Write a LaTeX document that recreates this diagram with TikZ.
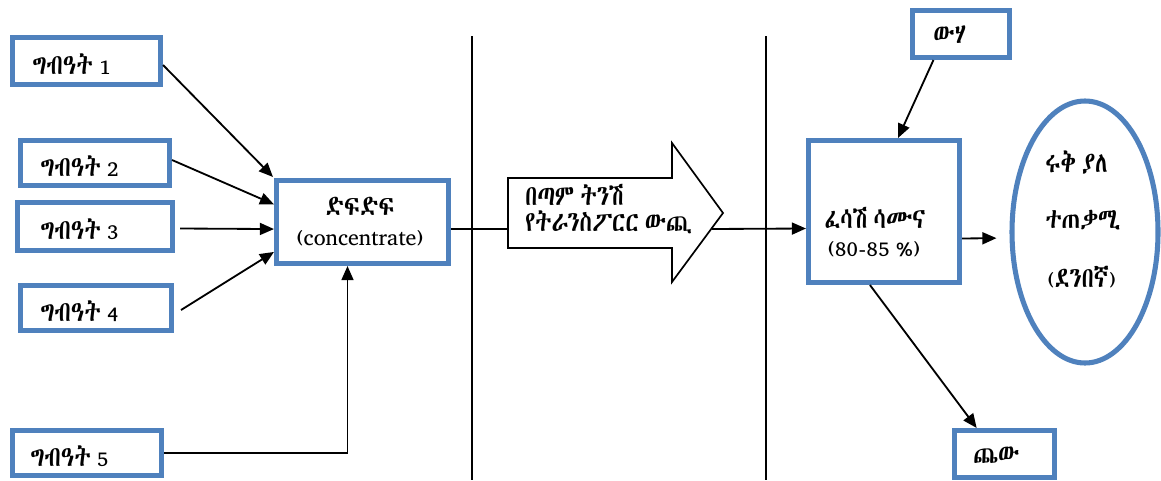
\documentclass[tikz,border=0pt]{standalone}
\usepackage{fontspec}
\usetikzlibrary{arrows.meta,shapes.geometric,calc}
\newfontfamily\eth{Abyssinica SIL}[Scale=1.3,FakeStretch=0.8,WordSpace=0.6]
\newfontfamily\lat{Abyssinica SIL}[WordSpace=0.6]
\definecolor{boxblue}{RGB}{79,129,189}
\newdimen\px \px=0.025cm
\begin{document}
\begin{tikzpicture}[x=0.025cm,y=-0.025cm,
  txt/.style={font=\eth\fontsize{15.5}{18}\selectfont,inner sep=0pt},
  bluebox/.style={draw=boxblue,line width=3.6pt,inner sep=0pt,rectangle},
  conn/.style={line width=1.3pt,-{Triangle[length=10pt,width=8.5pt]}},
  plain/.style={line width=1.3pt}]
\useasboundingbox (0,0) rectangle (1161,480);
% input boxes
\node[bluebox,minimum width=148\px,minimum height=47\px] (in1) at (86.5,61) {};
\node[bluebox,minimum width=149\px,minimum height=45\px] (in2) at (95,163) {};
\node[bluebox,minimum width=155\px,minimum height=48\px] (in3) at (95,226.5) {};
\node[bluebox,minimum width=151\px,minimum height=45\px] (in4) at (96,308) {};
\node[bluebox,minimum width=149\px,minimum height=45\px] (in5) at (87,453) {};
\node[txt,anchor=west] (t1) at (32,64) {ግብዓት {\lat 1}};
\node[txt,anchor=west] (t2) at (40,166) {ግብዓት {\lat 2}};
\node[txt,anchor=west] (t3) at (40,229) {ግብዓት {\lat 3}};
\node[txt,anchor=west] (t4) at (40,311) {ግብዓት {\lat 4}};
\node[txt,anchor=west] (t5) at (30,456) {ግብዓት {\lat 5}};
% concentrate
\node[bluebox,minimum width=172\px,minimum height=83\px] (conc) at (362.5,222) {};
\node[txt] (c1) at (360,206) {ድፍድፍ};
\node[txt] (c2) at (360,238) {\lat (concentrate)};
% separators
\coordinate (s1a) at (472,36); \coordinate (s1b) at (472,480);
\coordinate (s2a) at (766,36); \coordinate (s2b) at (766,480);
\draw[line width=1pt] (s1a) -- (s1b);
\draw[line width=1pt] (s2a) -- (s2b);
% big arrow
\coordinate (aL) at (508,229);
\coordinate (aR) at (712,229);
\draw[line width=1.2pt,fill=white,line join=miter]
  (508,178) -- (672,178) -- (672,143) -- (723,213) -- (672,282) -- (672,248) -- (508,248) -- cycle;
\node[txt,anchor=west] (a1) at (525,195) {በጣም ትንሽ};
\node[txt,anchor=west] (a2) at (525,222) {የትራንስፖርር ውጪ};
% fluid soap
\node[bluebox,minimum width=151\px,minimum height=142\px] (fluid) at (884,211.5) {};
\node[txt] (f1) at (875,218) {ፈሳሽ ሳሙና};
\node[txt] (f2) at (874,249) {\lat (80-85 \%)};
% water
\node[bluebox,minimum width=97\px,minimum height=47\px] (water) at (961,34) {};
\node[txt,anchor=west] (w1) at (933,35) {ውሃ};
% salt
\node[bluebox,minimum width=100\px,minimum height=47\px] (salt) at (1004.5,454) {};
\node[txt,anchor=west] (s1) at (973,455) {ጨው};
% customer
\node[draw=boxblue,line width=3.6pt,ellipse,minimum width=146\px,minimum height=262\px,inner sep=0pt] (cust) at (1085,232) {};
\node[txt,anchor=west] (u1) at (1045,162) {ሩቅ ያለ};
\node[txt,anchor=west] (u2) at (1045,220) {ተጠቃሚ};
\node[txt,anchor=west] (u3) at (1047,277) {{\lat(}ደንበኛ{\lat)}};
% connectors
\draw[conn] ($(in1.east)+(0,4)$) -- ($(conc.north west)+(-1,-1)$);
\draw[conn] ($(in2.east)+(0,-3)$) -- ($(conc.north west)!0.3!(conc.south west)$);
\draw[conn] ($(in3.east)+(5,2)$) -- ($(conc.north west)!0.58!(conc.south west)$);
\draw[conn] ($(in4.east)+(7,2)$) -- ($(conc.north west)!0.84!(conc.south west)$);
\draw[conn] (in5.east) -| ($(conc.south)+(-15,0)$);
\draw[plain] ($(conc.east)+(0,7)$) -- (aL);
\draw[conn] (aR) -- ($(fluid.west)+(0,17)$);
\draw[conn] ($(water.south west)!0.23!(water.south east)$) -- ($(fluid.north west)!0.59!(fluid.north east)$);
\draw[conn,shorten >=13\px] ($(fluid.east)+(0,27)$) -- ($(cust.west)+(0,6)$);
\draw[conn] ($(fluid.south west)!0.41!(fluid.south east)$) -- ($(salt.north west)!0.235!(salt.north east)$);
\end{tikzpicture}
\end{document}
